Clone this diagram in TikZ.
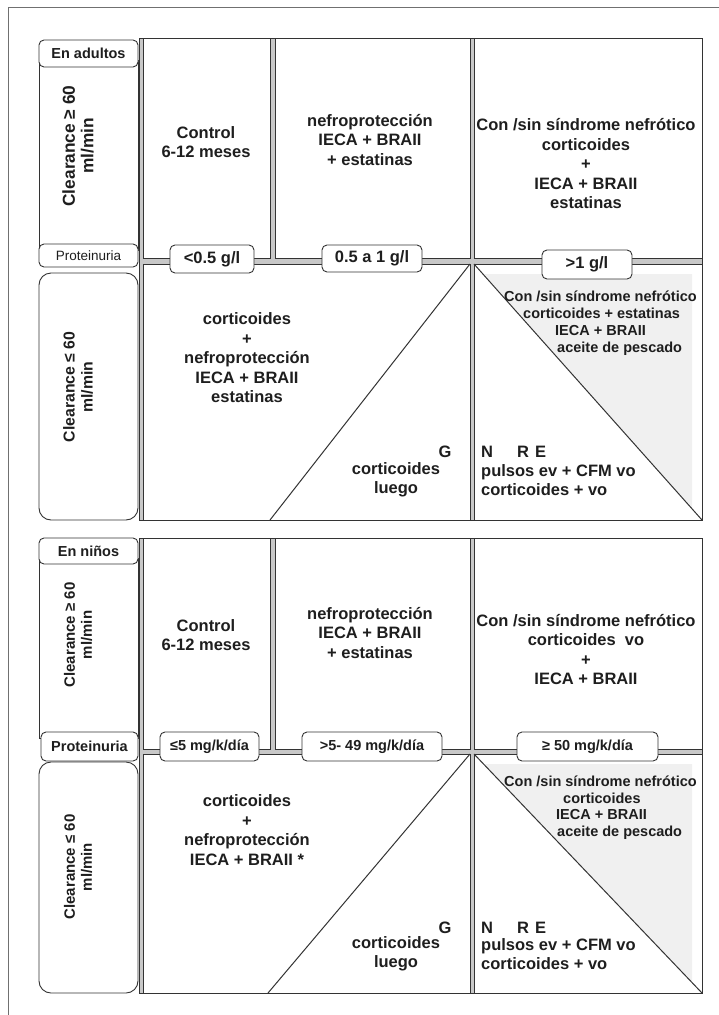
\documentclass[tikz,border=0pt]{standalone}
\usepackage{fontspec}
\setmainfont{Liberation Sans}
\definecolor{ln}{HTML}{333333}
\definecolor{gapc}{HTML}{C8C8C8}
\definecolor{tric}{HTML}{F0F0F0}
\definecolor{framec}{HTML}{707070}
\definecolor{txt}{HTML}{1E1E1E}
\tikzset{
  box/.style={draw=ln, line width=0.9pt, fill=white, inner sep=0pt, outer sep=0pt, anchor=north west},
  gapbox/.style={box, fill=gapc},
  rbox/.style={box, rounded corners=5pt},
  bigr/.style={box, rounded corners=12pt},
  lbl/.style={font=\fontsize{16.5}{19.5}\selectfont\bfseries, align=center, inner sep=0pt, text=txt},
  lbls/.style={font=\fontsize{14.5}{17}\selectfont\bfseries, align=center, inner sep=0pt, text=txt},
  lblg/.style={font=\fontsize{14.5}{17}\selectfont\bfseries, align=left, inner sep=0pt, text=txt, anchor=west},
  lblr/.style={font=\fontsize{13.5}{16}\selectfont, inner sep=0pt, text=txt},
  rot/.style={font=\fontsize{16.5}{18}\selectfont\bfseries, align=center, inner sep=0pt, text=txt, rotate=90},
  diag/.style={draw=ln, line width=1pt},
}
\begin{document}
\begin{tikzpicture}[x=1pt,y=-1pt]
\useasboundingbox (0,0) rectangle (719,1015);
\draw[framec, line width=1pt] (8,1015) -- (8,7) -- (719,7);

% ===================== Section 1 (adults) =====================
\node[gapbox, minimum width=563pt, minimum height=482pt] (bg1) at (139,38) {};
\node[box, minimum width=127pt, minimum height=220pt] (t11) at (143,38) {};
\node[box, minimum width=195pt, minimum height=220pt] (t12) at (275,38) {};
\node[box, minimum width=228pt, minimum height=220pt] (t13) at (474,38) {};
\node[box, minimum width=327pt, minimum height=256pt] (b11) at (143,264) {};
\node[box, minimum width=228pt, minimum height=256pt] (b12) at (474,264) {};
\fill[tric] (484,274) -- (692,274) -- (692,509) -- cycle;
\coordinate (d11) at (270,520);
\draw[diag] (b11.north east) -- (d11);
\draw[diag] (b12.north west) -- (b12.south east);

\node[box, minimum width=99pt, minimum height=190pt] (c1) at (39,60) {};
\node[rbox, minimum width=99pt, minimum height=27pt] (ha) at (39,40) {};
\node[rbox, minimum width=99pt, minimum height=23pt] (pr1) at (39,244) {};
\node[bigr, minimum width=99pt, minimum height=247pt] (cl1) at (39,273) {};

\node[rbox, minimum width=84pt, minimum height=28pt] (p11) at (170,245) {};
\node[rbox, minimum width=100pt, minimum height=27pt] (p12) at (322,245) {};
\node[rbox, minimum width=90pt, minimum height=29pt] (p13) at (542,250) {};

\node[lbls] (tha) at (ha.center) {En adultos};
\node[lblr] (tpr1) at (pr1.center) {Proteinuria};
\node[lbl] (tp11) at (p11.center) {<0.5 g/l};
\node[lbl] (tp12) at (p12.center) {0.5 a 1 g/l};
\node[lbl] (tp13) at (p13.center) {>1 g/l};
\node[rot, font=\fontsize{17.3}{18.5}\selectfont\bfseries] (tc1) at (78,146) {Clearance ≥ 60\\ml/min};
\node[rot, font=\fontsize{15.8}{18}\selectfont\bfseries] (tcl1) at (78,387) {Clearance ≤ 60\\ml/min};
\node[lbl] (tt11) at (206,142) {Control\\6-12 meses};
\node[lbl] (tt12) at (370,140) {nefroprotección\\IECA + BRAII\\+ estatinas};
\node[lbl] (tt13) at (586,164) {Con /sin síndrome nefrótico\\corticoides\\+\\IECA + BRAII\\estatinas};
\node[lbl] (tb11) at (247,358) {corticoides\\+\\nefroprotección\\IECA + BRAII\\estatinas};
\node[lbl] (tg1) at (445,452) {G};
\node[lbl] (tcl1b) at (396,480) {corticoides\\luego};
\node[lbl, anchor=west] (tnre1) at (481,452) {N\hspace{24pt}R\hspace{6pt}E};
\node[lbl, anchor=west, align=left] (tpu1) at (481,480) {pulsos ev + CFM vo\\corticoides + vo};
\node[lblg] (tgr1) at (504,323.5) {Con /sin síndrome nefrótico\\\hspace*{19pt}corticoides + estatinas\\\hspace*{51pt}IECA + BRAII\\\hspace*{53pt}aceite de pescado};

% ===================== Section 2 (children) =====================
\node[gapbox, minimum width=563pt, minimum height=455pt] (bg2) at (139,538) {};
\node[box, minimum width=127pt, minimum height=211pt] (t21) at (143,538) {};
\node[box, minimum width=195pt, minimum height=211pt] (t22) at (275,538) {};
\node[box, minimum width=228pt, minimum height=211pt] (t23) at (474,538) {};
\node[box, minimum width=327pt, minimum height=239pt] (b21) at (143,754) {};
\node[box, minimum width=228pt, minimum height=239pt] (b22) at (474,754) {};
\fill[tric] (484,764) -- (692,764) -- (692,982) -- cycle;
\coordinate (d21) at (268,993);
\draw[diag] (b21.north east) -- (d21);
\draw[diag] (b22.north west) -- (b22.south east);

\node[box, minimum width=99pt, minimum height=180pt] (c2) at (39,558) {};
\node[rbox, minimum width=99pt, minimum height=26pt] (hb) at (39,538) {};
\node[rbox, minimum width=97pt, minimum height=29pt] (pr2) at (41,732) {};
\node[bigr, minimum width=99pt, minimum height=231pt] (cl2) at (39,762) {};

\node[rbox, minimum width=99pt, minimum height=29pt] (p21) at (160,732) {};
\node[rbox, minimum width=140pt, minimum height=29pt] (p22) at (302,732) {};
\node[rbox, minimum width=141pt, minimum height=29pt] (p23) at (517,732) {};

\node[lbls] (thb) at (hb.center) {En niños};
\node[lbls] (tpr2) at (pr2.center) {Proteinuria};
\node[lbls] (tp21) at (p21.center) {≤5 mg/k/día};
\node[lbls] (tp22) at (p22.center) {>5- 49 mg/k/día};
\node[lbls] (tp23) at (p23.center) {≥ 50 mg/k/día};
\node[rot, font=\fontsize{15}{17}\selectfont\bfseries] (tc2) at (78,635) {Clearance ≥ 60\\ml/min};
\node[rot, font=\fontsize{15}{17}\selectfont\bfseries] (tcl2) at (78,867) {Clearance ≤ 60\\ml/min};
\node[lbl] (tt21) at (206,635) {Control\\6-12 meses};
\node[lbl] (tt22) at (370,633) {nefroprotección\\IECA + BRAII\\+ estatinas};
\node[lbl] (tt23) at (586,649.5) {Con /sin síndrome nefrótico\\corticoides\ \ vo\\+\\IECA + BRAII};
\node[lbl] (tb21) at (247,830) {corticoides\\+\\nefroprotección\\IECA + BRAII *};
\node[lbl] (tg2) at (445,928) {G};
\node[lbl] (tcl2b) at (396,954) {corticoides\\luego};
\node[lbl, anchor=west] (tnre2) at (481,928) {N\hspace{24pt}R\hspace{6pt}E};
\node[lbl, anchor=west, align=left] (tpu2) at (481,954) {pulsos ev + CFM vo\\corticoides + vo};
\node[lblg, font=\fontsize{14.5}{16.5}\selectfont\bfseries] (tgr2) at (504,807.5) {Con /sin síndrome nefrótico\\\hspace*{59pt}corticoides\\\hspace*{52pt}IECA + BRAII\\\hspace*{53pt}aceite de pescado};
\end{tikzpicture}
\end{document}
